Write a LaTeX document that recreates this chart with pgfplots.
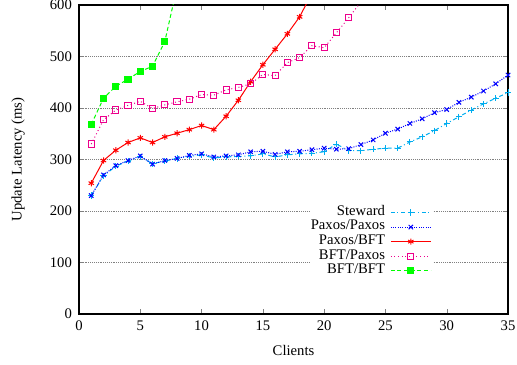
\documentclass[border=0pt]{standalone}
\usepackage{pgfplots}
\pgfplotsset{compat=1.18}
\usepackage{fontspec}
\setmainfont{Liberation Serif}
\begin{document}
\fontsize{11}{13}\selectfont
\begin{tikzpicture}
\begin{axis}[
  name=ax,
  scale only axis,
  width=321.75pt, height=231.75pt,
  xmin=0, xmax=35, ymin=0, ymax=600,
  xtick={0,5,...,35}, ytick={0,100,...,600},
  tick align=inside,
  major tick length=3.75pt,
  xtick pos=both, ytick pos=both,
  /pgf/number format/assume math mode=true,
  yticklabel style={xshift=-1.5pt},
  xticklabel style={yshift=-1pt},
  axis line style={line width=0.9pt},
  ymajorgrids,
  major grid style={densely dotted, gray, line width=0.6pt},
  xlabel={Clients}, ylabel={Update Latency (ms)},
  xlabel style={at={(axis description cs:0.5,-0.117)}, anchor=center},
  ylabel style={at={(axis description cs:-0.142,0.5)}, anchor=center},
  legend plot pos=right,
  legend cell align=right,
  legend style={at={(0.825,0.357)}, anchor=north east, draw=none, fill=white,
    font=\fontsize{11}{12}\selectfont, row sep=0pt, inner sep=1pt,
    nodes={inner sep=0pt, text height=7.6pt, text depth=3.3pt},
    column 1/.style={nodes={text width=73.5pt, align=right}},
    column sep=4pt},
  legend image code/.code={\draw[mark repeat=2,mark phase=2] plot coordinates {(0pt,0pt) (15pt,0pt) (30pt,0pt)};},
  every axis plot/.append style={line width=0.75pt, mark size=2.3pt},
]
\addplot[cyan, dash dot, mark=+, mark options={solid}] coordinates {
(1,230)(2,268)(3,287)(4,297)(5,305)(6,292)(7,297)(8,302)(9,306)(10,309)(11,303)(12,305)(13,306)(14,307)(15,311)(16,305)(17,309)(18,311)(19,312)(20,315)(21,330)(22,317)(23,317)(24,320)(25,322)(26,322)(27,334)(28,344)(29,356)(30,370)(31,383)(32,396)(33,408)(34,419)(35,430)};
\addlegendentry{Steward}
\addplot[blue, densely dotted, mark=x, mark options={solid}] coordinates {
(1,230)(2,270)(3,288)(4,298)(5,307)(6,291)(7,298)(8,302)(9,308)(10,311)(11,305)(12,307)(13,309)(14,315)(15,316)(16,310)(17,315)(18,316)(19,319)(20,322)(21,320)(22,321)(23,329)(24,338)(25,351)(26,359)(27,370)(28,379)(29,391)(30,397)(31,411)(32,421)(33,433)(34,447)(35,464)};
\addlegendentry{Paxos/Paxos}
\addplot[red, solid, mark=asterisk, mark options={solid}] coordinates {
(1,254)(2,298)(3,318)(4,333)(5,342)(6,333)(7,344)(8,351)(9,358)(10,366)(11,358)(12,384)(13,415)(14,451)(15,484)(16,514)(17,544)(18,577)(19,623)};
\addlegendentry{Paxos/BFT}
\addplot[magenta, dotted, mark=square, mark options={solid}] coordinates {
(1,330)(2,377)(3,396)(4,405)(5,413)(6,399)(7,406)(8,412)(9,417)(10,426)(11,425)(12,435)(13,440)(14,447)(15,465)(16,463)(17,488)(18,498)(19,521)(20,517)(21,546)(22,575)(23,606)};
\addlegendentry{BFT/Paxos}
\addplot[green, densely dashed, mark=square*, mark options={solid}] coordinates {
(1,368)(2,419)(3,442)(4,456)(5,471)(6,481)(7,529)(8,635)};
\addlegendentry{BFT/BFT}
\end{axis}
\pgfresetboundingbox
\path ([xshift=-59.25pt,yshift=-37.5pt]ax.south west) rectangle ([xshift=6.75pt,yshift=3.75pt]ax.north east);
\end{tikzpicture}
\end{document}
